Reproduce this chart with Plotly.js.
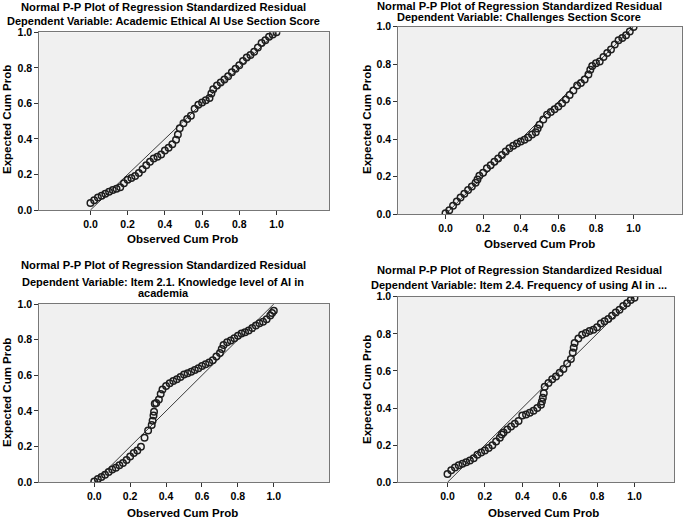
<!DOCTYPE html>
<html>
<head>
<meta charset="utf-8">
<script src="https://cdn.plot.ly/plotly-3.0.1.min.js"></script>
<style>html,body{margin:0;padding:0;background:#fff;}#chart{width:685px;height:518px;}</style>
</head>
<body>
<div id="chart"></div>
<script>
// ---- Data (Observed Cum Prob, Expected Cum Prob) ----
const mainTitle = "Normal P-P Plot of Regression Standardized Residual";
const subTitles = [
  ["Dependent Variable: Academic Ethical AI Use Section Score"],
  ["Dependent Variable: Challenges Section Score"],
  ["Dependent Variable: Item 2.1. Knowledge level of AI in", "academia"],
  ["Dependent Variable: Item 2.4. Frequency of using AI in ..."]
];
const xTitle = "Observed Cum Prob";
const yTitle = "Expected Cum Prob";
const tickVals = [0, 0.2, 0.4, 0.6, 0.8, 1.0];
const tickText = ["0.0", "0.2", "0.4", "0.6", "0.8", "1.0"];
const diagX = [0, 1];
const diagY = [0, 1];

const p1Obs = [0.00,0.02,0.04,0.06,0.08,0.10,0.12,0.14,0.16,0.18,0.20,0.22,0.24,0.26,0.28,0.30,0.32,0.34,0.36,0.38,0.40,0.42,0.44,0.46,0.47,0.48,0.50,0.52,0.54,0.56,0.58,0.60,0.62,0.64,0.65,0.66,0.68,0.70,0.72,0.74,0.76,0.78,0.80,0.82,0.84,0.86,0.88,0.90,0.92,0.94,0.96,0.98,1.00];
const p1Exp = [0.040,0.055,0.070,0.080,0.092,0.102,0.112,0.120,0.128,0.150,0.170,0.180,0.192,0.208,0.230,0.252,0.272,0.290,0.300,0.312,0.335,0.350,0.370,0.395,0.425,0.460,0.488,0.512,0.530,0.570,0.592,0.605,0.618,0.630,0.655,0.680,0.700,0.718,0.735,0.752,0.775,0.795,0.815,0.838,0.858,0.872,0.890,0.915,0.940,0.955,0.975,0.988,1.000];

const p2Obs = [0.00,0.02,0.04,0.06,0.08,0.10,0.12,0.14,0.16,0.17,0.18,0.20,0.22,0.24,0.26,0.28,0.30,0.32,0.34,0.36,0.38,0.40,0.42,0.44,0.46,0.48,0.49,0.50,0.52,0.54,0.56,0.58,0.60,0.62,0.64,0.66,0.68,0.70,0.72,0.74,0.76,0.77,0.78,0.80,0.82,0.84,0.86,0.88,0.90,0.92,0.94,0.96,0.98,1.00];
const p2Exp = [0.005,0.022,0.045,0.068,0.090,0.110,0.130,0.148,0.168,0.185,0.205,0.222,0.245,0.262,0.280,0.298,0.316,0.335,0.352,0.365,0.378,0.388,0.398,0.410,0.425,0.438,0.458,0.478,0.505,0.530,0.545,0.560,0.575,0.592,0.612,0.636,0.660,0.686,0.700,0.718,0.745,0.770,0.790,0.805,0.815,0.838,0.860,0.878,0.905,0.928,0.940,0.955,0.975,0.998];

const p3Obs = [0.00,0.02,0.04,0.06,0.08,0.10,0.12,0.14,0.16,0.18,0.20,0.22,0.24,0.26,0.28,0.30,0.32,0.325,0.33,0.333,0.337,0.345,0.36,0.37,0.38,0.40,0.42,0.44,0.46,0.48,0.50,0.52,0.54,0.56,0.58,0.60,0.62,0.64,0.66,0.68,0.70,0.71,0.72,0.74,0.76,0.78,0.80,0.82,0.84,0.86,0.88,0.90,0.92,0.94,0.96,0.98,0.99,1.00];
const p3Exp = [0.005,0.018,0.030,0.042,0.058,0.072,0.082,0.095,0.108,0.125,0.145,0.165,0.178,0.200,0.250,0.290,0.322,0.345,0.375,0.395,0.440,0.445,0.465,0.495,0.520,0.540,0.555,0.568,0.578,0.590,0.605,0.612,0.620,0.630,0.640,0.652,0.662,0.672,0.685,0.705,0.725,0.748,0.770,0.785,0.795,0.808,0.822,0.834,0.842,0.852,0.865,0.880,0.892,0.900,0.915,0.935,0.950,0.962];

const p4Obs = [0.00,0.02,0.04,0.06,0.08,0.10,0.12,0.14,0.16,0.18,0.20,0.22,0.24,0.26,0.28,0.29,0.30,0.32,0.34,0.36,0.38,0.40,0.42,0.44,0.46,0.48,0.50,0.505,0.51,0.515,0.52,0.54,0.56,0.58,0.60,0.62,0.64,0.66,0.67,0.675,0.68,0.70,0.72,0.74,0.76,0.78,0.80,0.82,0.84,0.86,0.88,0.90,0.92,0.94,0.96,0.98,1.00];
const p4Exp = [0.045,0.065,0.080,0.092,0.100,0.108,0.118,0.130,0.148,0.160,0.172,0.185,0.200,0.220,0.240,0.258,0.268,0.285,0.300,0.315,0.330,0.360,0.365,0.375,0.385,0.400,0.418,0.435,0.455,0.480,0.515,0.535,0.555,0.570,0.590,0.610,0.640,0.665,0.700,0.725,0.750,0.775,0.795,0.805,0.815,0.822,0.835,0.855,0.868,0.880,0.898,0.915,0.930,0.950,0.965,0.982,0.995];

// ---- Layout geometry (pixels of the 685x518 figure) ----
const W = 685, H = 518;
const panels = [
  {obs: p1Obs, exp: p1Exp, xd: [39.3, 329.3], yd: [32.3, 210], xr: [-0.275, 1.284],
   t1y: 7, t2y: [21], xtY: 239, xtX: 183, ytX: 7, ytY: 120},
  {obs: p2Obs, exp: p2Exp, xd: [398.3, 681.7], yd: [26.7, 214.3], xr: [-0.251, 1.256],
   t1y: 6, t2y: [17], xtY: 244, xtX: 539, ytX: 367, ytY: 120},
  {obs: p3Obs, exp: p3Exp, xd: [39.3, 329.3], yd: [304, 482.3], xr: [-0.306, 1.309],
   t1y: 265, t2y: [282, 293], xtY: 512.5, xtX: 183, ytX: 7, ytY: 393},
  {obs: p4Obs, exp: p4Exp, xd: [398.3, 674.3], yd: [296.7, 482.3], xr: [-0.263, 1.213],
   t1y: 269.5, t2y: [284.5], xtY: 512.5, xtX: 543, ytX: 367, ytY: 390}
];

const FONT = "Liberation Sans, Arial, sans-serif";
const traces = [];
const layout = {
  width: W, height: H,
  margin: {l: 0, r: 0, t: 0, b: 0},
  paper_bgcolor: "#ffffff",
  plot_bgcolor: "#f0f0f0",
  showlegend: false,
  annotations: [],
  font: {family: FONT, color: "#000"}
};

panels.forEach((p, i) => {
  const n = i + 1;
  const xa = n === 1 ? "x" : "x" + n;
  const ya = n === 1 ? "y" : "y" + n;
  traces.push({
    x: diagX, y: diagY, xaxis: xa, yaxis: ya, mode: "lines", type: "scatter",
    line: {color: "#3a3a3a", width: 1}, hoverinfo: "skip"
  });
  traces.push({
    x: p.obs, y: p.exp, xaxis: xa, yaxis: ya, mode: "markers", type: "scatter",
    marker: {symbol: "circle-open", size: 6.5, color: "#1e1e1e", line: {width: 1.5, color: "#1e1e1e"}}
  });
  const common = {
    tickvals: tickVals, ticktext: tickText, ticks: "outside", ticklen: 4, tickcolor: "#333",
    tickfont: {family: FONT, size: 10.5, weight: "bold", color: "#000"},
    showgrid: false, zeroline: false, showline: true, linecolor: "#777", linewidth: 1, mirror: true,
    fixedrange: true
  };
  layout[n === 1 ? "xaxis" : "xaxis" + n] = Object.assign({
    domain: [p.xd[0] / W, p.xd[1] / W], range: p.xr, anchor: ya
  }, common);
  layout[n === 1 ? "yaxis" : "yaxis" + n] = Object.assign({
    domain: [1 - p.yd[1] / H, 1 - p.yd[0] / H], range: [0, 1], anchor: xa
  }, common);

  const cx = (i % 2 === 0) ? 163 : 519;
  layout.annotations.push({
    text: mainTitle, xref: "paper", yref: "paper", x: cx / W, y: 1 - p.t1y / H,
    xanchor: "center", yanchor: "middle", showarrow: false,
    font: {family: FONT, size: 11.2, weight: "bold", color: "#000"}
  });
  subTitles[i].forEach((s, k) => {
    layout.annotations.push({
      text: s, xref: "paper", yref: "paper", x: cx / W, y: 1 - p.t2y[k] / H,
      xanchor: "center", yanchor: "middle", showarrow: false,
      font: {family: FONT, size: 11, weight: "bold", color: "#000"}
    });
  });
  layout.annotations.push({
    text: xTitle, xref: "paper", yref: "paper", x: p.xtX / W, y: 1 - p.xtY / H,
    xanchor: "center", yanchor: "middle", showarrow: false,
    font: {family: FONT, size: 11.5, weight: "bold", color: "#000"}
  });
  layout.annotations.push({
    text: yTitle, xref: "paper", yref: "paper", x: p.ytX / W, y: 1 - p.ytY / H,
    xanchor: "center", yanchor: "middle", showarrow: false, textangle: -90,
    font: {family: FONT, size: 11.5, weight: "bold", color: "#000"}
  });
});

Plotly.newPlot("chart", traces, layout, {staticPlot: true, displayModeBar: false});
</script>
</body>
</html>
